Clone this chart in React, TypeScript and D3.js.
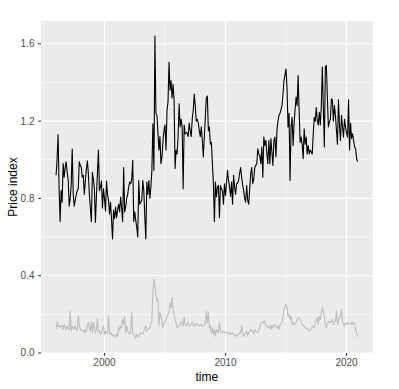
import React from 'react';
import * as d3 from 'd3';

// monthly series, Jan 1996 .. Dec 2020 (one row per year)
const startYear = 1996;

const priceHigh = [
  0.92, 1.00, 1.13, 0.85, 0.68, 0.84, 0.78, 0.98, 0.91, 0.96, 0.99, 0.935,
  0.90, 0.76, 0.80, 0.87, 1.056, 0.82, 0.76, 0.79, 0.82, 0.84, 0.85, 0.99,
  0.97, 0.96, 0.91, 0.92, 0.82, 0.89, 0.95, 0.995, 0.93, 0.82, 0.75, 0.68,
  0.935, 0.90, 0.85, 0.675, 0.81, 0.93, 1.05, 0.84, 0.86, 0.89, 0.75, 0.85,
  0.80, 0.735, 0.89, 0.82, 0.79, 0.72, 0.78, 0.686, 0.59, 0.74, 0.695, 0.755,
  0.70, 0.74, 0.77, 0.73, 0.807, 0.75, 0.68, 0.96, 0.73, 0.755, 0.80, 0.82,
  0.86, 0.885, 0.876, 0.90, 0.997, 0.68, 0.73, 0.686, 0.65, 0.60, 0.893, 0.77,
  0.78, 0.79, 0.893, 0.84, 0.70, 0.59, 0.885, 0.82, 0.893, 0.80, 0.86, 0.945,
  1.186, 0.945, 1.64, 1.24, 1.23, 1.14, 1.05, 1.12, 0.98, 1.014, 1.10, 1.152,
  1.18, 1.05, 1.255, 1.30, 1.505, 1.36, 1.41, 1.32, 1.39, 1.31, 0.955, 1.05,
  1.03, 1.12, 1.29, 1.17, 1.21, 1.17, 0.85, 1.18, 1.134, 1.14, 1.14, 1.12,
  1.19, 1.15, 1.12, 1.21, 1.255, 1.34, 1.28, 1.20, 1.21, 1.19, 1.15, 1.12,
  1.17, 1.10, 1.014, 1.12, 1.22, 1.32, 1.33, 1.15, 1.17, 1.08, 1.09, 0.98,
  0.876, 0.68, 0.885, 0.807, 0.86, 0.867, 0.70, 0.867, 0.85, 0.84, 0.77, 0.876,
  0.815, 0.88, 0.945, 0.893, 0.86, 0.81, 0.885, 0.77, 0.92, 0.86, 0.82, 0.876,
  0.88, 0.893, 0.93, 0.96, 0.91, 0.87, 0.84, 0.80, 0.78, 0.867, 0.79, 0.77,
  0.85, 0.928, 0.96, 0.876, 0.90, 0.96, 0.97, 0.98, 1.057, 1.03, 1.02, 0.98,
  1.066, 0.91, 1.117, 1.074, 1.10, 1.03, 0.98, 1.10, 0.98, 1.11, 1.04, 0.97,
  1.10, 1.117, 1.014, 1.152, 1.20, 1.23, 1.24, 1.26, 1.28, 1.34, 1.41, 1.44,
  1.47, 1.37, 1.17, 1.24, 0.893, 1.17, 1.22, 1.074, 1.19, 1.26, 1.324, 1.28,
  1.436, 1.255, 1.09, 1.117, 1.08, 1.005, 1.16, 1.08, 1.117, 1.03, 1.074, 1.03,
  1.05, 1.04, 1.03, 1.134, 1.22, 1.20, 1.27, 1.20, 1.18, 1.246, 1.18, 1.28,
  1.48, 1.27, 1.066, 1.48, 1.488, 1.324, 1.17, 1.195, 1.21, 1.315, 1.31, 1.20,
  1.28, 1.23, 1.152, 1.08, 1.31, 1.18, 1.10, 1.23, 1.17, 1.117, 1.21, 1.17,
  1.14, 1.117, 1.31, 1.05, 1.19, 1.11, 1.134, 1.10, 1.066, 1.057, 1.005, 0.99,
];

const priceLow = [
  0.122, 0.16, 0.136, 0.143, 0.13, 0.138, 0.143, 0.122, 0.146, 0.135, 0.118, 0.14,
  0.13, 0.122, 0.217, 0.113, 0.14, 0.13, 0.122, 0.14, 0.125, 0.113, 0.195, 0.14,
  0.125, 0.118, 0.115, 0.113, 0.122, 0.104, 0.115, 0.143, 0.157, 0.13, 0.113, 0.16,
  0.104, 0.157, 0.13, 0.104, 0.122, 0.177, 0.113, 0.113, 0.096, 0.104, 0.12, 0.14,
  0.096, 0.113, 0.104, 0.104, 0.195, 0.096, 0.108, 0.095, 0.087, 0.096, 0.09, 0.083,
  0.096, 0.087, 0.13, 0.12, 0.14, 0.13, 0.174, 0.15, 0.19, 0.104, 0.14, 0.113,
  0.105, 0.096, 0.113, 0.209, 0.104, 0.095, 0.087, 0.078, 0.096, 0.09, 0.083, 0.096,
  0.104, 0.1, 0.096, 0.113, 0.13, 0.14, 0.113, 0.12, 0.125, 0.13, 0.148, 0.16,
  0.32, 0.383, 0.35, 0.30, 0.27, 0.28, 0.14, 0.209, 0.19, 0.165, 0.13, 0.157,
  0.16, 0.174, 0.19, 0.2, 0.209, 0.26, 0.235, 0.287, 0.226, 0.2, 0.174, 0.157,
  0.13, 0.135, 0.14, 0.148, 0.165, 0.155, 0.14, 0.183, 0.148, 0.14, 0.15, 0.16,
  0.14, 0.145, 0.148, 0.16, 0.14, 0.14, 0.153, 0.143, 0.153, 0.145, 0.14, 0.146,
  0.143, 0.14, 0.142, 0.143, 0.157, 0.217, 0.157, 0.209, 0.13, 0.14, 0.104, 0.13,
  0.096, 0.122, 0.087, 0.122, 0.11, 0.104, 0.157, 0.113, 0.104, 0.11, 0.113, 0.104,
  0.108, 0.106, 0.104, 0.096, 0.108, 0.1, 0.096, 0.104, 0.096, 0.09, 0.087, 0.096,
  0.09, 0.098, 0.104, 0.104, 0.14, 0.104, 0.087, 0.096, 0.1, 0.113, 0.087, 0.104,
  0.11, 0.122, 0.113, 0.113, 0.096, 0.122, 0.113, 0.108, 0.104, 0.122, 0.13, 0.15,
  0.157, 0.165, 0.157, 0.165, 0.14, 0.143, 0.13, 0.135, 0.14, 0.122, 0.143, 0.13,
  0.14, 0.148, 0.135, 0.13, 0.14, 0.122, 0.143, 0.15, 0.157, 0.19, 0.226, 0.24,
  0.252, 0.235, 0.19, 0.2, 0.174, 0.19, 0.148, 0.157, 0.148, 0.148, 0.157, 0.174,
  0.183, 0.18, 0.174, 0.16, 0.148, 0.143, 0.136, 0.13, 0.128, 0.125, 0.122, 0.113,
  0.118, 0.122, 0.14, 0.135, 0.13, 0.148, 0.174, 0.183, 0.148, 0.19, 0.174, 0.209,
  0.235, 0.217, 0.19, 0.148, 0.13, 0.148, 0.165, 0.16, 0.157, 0.165, 0.174, 0.148,
  0.16, 0.165, 0.217, 0.148, 0.165, 0.19, 0.19, 0.226, 0.165, 0.148, 0.14, 0.157,
  0.148, 0.155, 0.157, 0.15, 0.148, 0.157, 0.148, 0.157, 0.15, 0.122, 0.104, 0.083,
];

const xTicks = [2000, 2010, 2020];
const xMinor = [1995, 2005, 2015];
const yTicks = [0, 0.4, 0.8, 1.2, 1.6];
const yMinor = [0.2, 0.6, 1.0, 1.4];

const width = 399;
const height = 389;
const panel = { left: 41, right: 372.7, top: 21, bottom: 353 };
const font = '"Liberation Sans", Arial, Helvetica, sans-serif';

export default function App() {
  const times = priceHigh.map((_, i) => startYear + i / 12);

  // ggplot-like 5% expansion on both axes
  const [x0, x1] = d3.extent(times) as [number, number];
  const xPad = (x1 - x0) * 0.05;
  const x = d3.scaleLinear()
    .domain([x0 - xPad, x1 + xPad])
    .range([panel.left, panel.right]);

  const [y0, y1] = d3.extent(priceHigh.concat(priceLow)) as [number, number];
  const yPad = (y1 - y0) * 0.05;
  const y = d3.scaleLinear()
    .domain([y0 - yPad, y1 + yPad])
    .range([panel.bottom, panel.top]);

  const line = d3.line<number>()
    .x((_, i) => x(times[i]))
    .y(d => y(d));

  const fmt = d3.format('.1f');

  return (
    <svg width={width} height={height}
      style={{ position: 'absolute', left: 0, top: 0, background: '#fff' }}
      fontFamily={font}>
      <rect x={panel.left} y={panel.top}
        width={panel.right - panel.left} height={panel.bottom - panel.top}
        fill="#EBEBEB" />

      {/* minor grid */}
      {yMinor.map(t => (
        <line key={'ym' + t} x1={panel.left} x2={panel.right} y1={y(t)} y2={y(t)}
          stroke="#fff" strokeWidth={0.55} />
      ))}
      {xMinor.map(t => (
        <line key={'xm' + t} x1={x(t)} x2={x(t)} y1={panel.top} y2={panel.bottom}
          stroke="#fff" strokeWidth={0.55} />
      ))}
      {/* major grid */}
      {yTicks.map(t => (
        <line key={'y' + t} x1={panel.left} x2={panel.right} y1={y(t)} y2={y(t)}
          stroke="#fff" strokeWidth={1.1} />
      ))}
      {xTicks.map(t => (
        <line key={'x' + t} x1={x(t)} x2={x(t)} y1={panel.top} y2={panel.bottom}
          stroke="#fff" strokeWidth={1.1} />
      ))}

      <path d={line(priceLow) || ''} fill="none" stroke="#BEBEBE" strokeWidth={1.1}
        strokeLinejoin="round" />
      <path d={line(priceHigh) || ''} fill="none" stroke="#000" strokeWidth={1.1}
        strokeLinejoin="round" />

      {/* y axis */}
      {yTicks.map(t => (
        <g key={'yt' + t}>
          <line x1={panel.left - 2.75} x2={panel.left} y1={y(t)} y2={y(t)}
            stroke="#333" strokeWidth={1.1} />
          <text x={panel.left - 6.5} y={y(t)} dy="0.35em" textAnchor="end"
            fontSize={10} fill="#4D4D4D">{fmt(t)}</text>
        </g>
      ))}
      {/* x axis */}
      {xTicks.map(t => (
        <g key={'xt' + t}>
          <line x1={x(t)} x2={x(t)} y1={panel.bottom} y2={panel.bottom + 2.75}
            stroke="#333" strokeWidth={1.1} />
          <text x={x(t)} y={panel.bottom + 13} textAnchor="middle"
            fontSize={10} fill="#4D4D4D">{t}</text>
        </g>
      ))}

      <text x={(panel.left + panel.right) / 2} y={381} textAnchor="middle"
        fontSize={12} fill="#000">time</text>
      <text transform={`translate(17,${(panel.top + panel.bottom) / 2}) rotate(-90)`}
        textAnchor="middle" fontSize={12} fill="#000">Price index</text>
    </svg>
  );
}
